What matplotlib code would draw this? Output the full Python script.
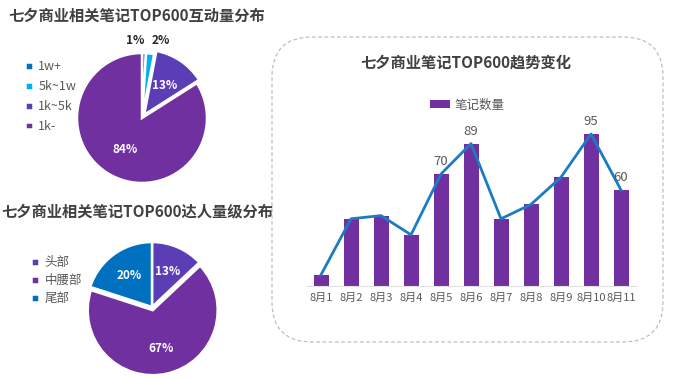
import matplotlib
matplotlib.use('Agg')
import matplotlib.pyplot as plt
from matplotlib.patches import FancyBboxPatch

plt.rcParams['font.family'] = ['Noto Sans CJK SC', 'DejaVu Sans']

# 数据
interaction_labels = ['1w+', '5k~1w', '1k~5k', '1k-']
interaction_pct = [1, 2, 13, 84]
tier_labels = ['头部', '中腰部', '尾部']
tier_pct = [13, 67, 20]
days = ['8月1', '8月2', '8月3', '8月4', '8月5', '8月6', '8月7', '8月8', '8月9', '8月10', '8月11']
note_counts = [7, 42, 44, 32, 70, 89, 42, 51, 68, 95, 60]
label_idx = [4, 5, 9, 10]  # 只标注这几天的数值

W, H = 674, 379
fig = plt.figure(figsize=(W / 100, H / 100), dpi=100)
fig.patch.set_facecolor('white')

TXT = '#404040'
GRAY = '#595959'
PURPLE = '#7030A0'
INDIGO = '#5B3EB5'
BLUE = '#0070C0'
SKY = '#00B0F0'


def px_axes(left, top, w, h):
    return fig.add_axes([left / W, 1 - (top + h) / H, w / W, h / H])


# 背景层（像素坐标）
bg = fig.add_axes([0, 0, 1, 1])
bg.set_xlim(0, W)
bg.set_ylim(H, 0)
bg.axis('off')
box = FancyBboxPatch((272, 37), 391, 305, boxstyle='round,pad=0,rounding_size=40',
                     fc='none', ec='#bfbfbf', lw=0.9, ls=(0, (3, 2)))
bg.add_patch(box)

bg.text(8, 16, '七夕商业相关笔记TOP600互动量分布', fontsize=11, fontweight='bold',
        color=TXT, va='center', ha='left')
bg.text(1, 211, '七夕商业相关笔记TOP600达人量级分布', fontsize=11, fontweight='bold',
        color=TXT, va='center', ha='left')
bg.text(466, 63, '七夕商业笔记TOP600趋势变化', fontsize=11, fontweight='bold',
        color=TXT, va='center', ha='center')

R = 65
LIM = 1.4
size = 2 * LIM * R


def draw_pie(cx, cy, values, colors, explode, pctdist):
    ax = px_axes(cx - size / 2, cy - size / 2, size, size)
    wedges, _, autotexts = ax.pie(values, colors=colors, startangle=90, counterclock=False,
                                  explode=explode, autopct=lambda p: f'{p:.0f}%',
                                  pctdistance=pctdist,
                                  wedgeprops=dict(edgecolor='white', linewidth=1.8),
                                  textprops=dict(color='white', fontsize=8.5, fontweight='bold'))
    ax.set_xlim(-LIM, LIM)
    ax.set_ylim(-LIM, LIM)
    ax.set_aspect('equal')
    ax.axis('off')
    return ax, wedges, autotexts


# 互动量分布
ax1, w1, t1 = draw_pie(142, 118, interaction_pct, [BLUE, SKY, INDIGO, PURPLE],
                       [0, 0, 0.06, 0], 0.55)
small = [i for i, v in enumerate(interaction_pct) if v < 5]
for k, i in enumerate(small):
    x, y = t1[i].get_position()
    t1[i].set_position((x / 0.55 * 1.2, y / 0.55 * 1.2))
    t1[i].set_color('#262626')
    t1[i].set_ha('right' if k == 0 else 'left')
bg.legend(w1, interaction_labels, loc='upper left', bbox_to_anchor=(14, 49),
          bbox_transform=bg.transData, frameon=False, fontsize=9, labelcolor=GRAY,
          handlelength=0.6, handleheight=0.6, handletextpad=0.45, labelspacing=0.55)

# 达人量级分布
ax2, w2, t2 = draw_pie(152, 307, tier_pct, [INDIGO, PURPLE, BLUE], [0, 0.05, 0], 0.6)
fig.legend(w2, tier_labels, loc='upper left', bbox_to_anchor=(20 / W, 1 - 245 / H),
           frameon=False, fontsize=9, labelcolor=GRAY,
           handlelength=0.6, handleheight=0.6, handletextpad=0.45, labelspacing=0.4)

# 趋势变化
ax3 = px_axes(306, 126, 330, 160)
x = range(len(days))
ax3.bar(x, note_counts, width=0.5, color=PURPLE, label='笔记数量', zorder=2)
ax3.plot(x, note_counts, color='#1B7BC4', lw=2, zorder=3)
for i in label_idx:
    ax3.annotate(str(note_counts[i]), (i, note_counts[i]), xytext=(0, 4),
                 textcoords='offset points', ha='center', va='bottom',
                 fontsize=9.5, color=GRAY)
ax3.set_xlim(-0.5, 10.5)
ax3.set_ylim(0, 100)
ax3.set_xticks(list(x))
ax3.set_xticklabels(days, fontsize=8, color=GRAY)
ax3.tick_params(axis='x', length=0, pad=5)
ax3.set_yticks([])
for s in ['top', 'right', 'left']:
    ax3.spines[s].set_visible(False)
ax3.spines['bottom'].set_color('#e0e0e0')
ax3.patch.set_alpha(0)
ax3.legend(loc='center', bbox_to_anchor=(467, 105), bbox_transform=bg.transData,
           frameon=False, fontsize=9, labelcolor=GRAY, handlelength=1.6,
           handleheight=0.6, handletextpad=0.4)

fig.savefig('out.png', dpi=100, facecolor='white')
